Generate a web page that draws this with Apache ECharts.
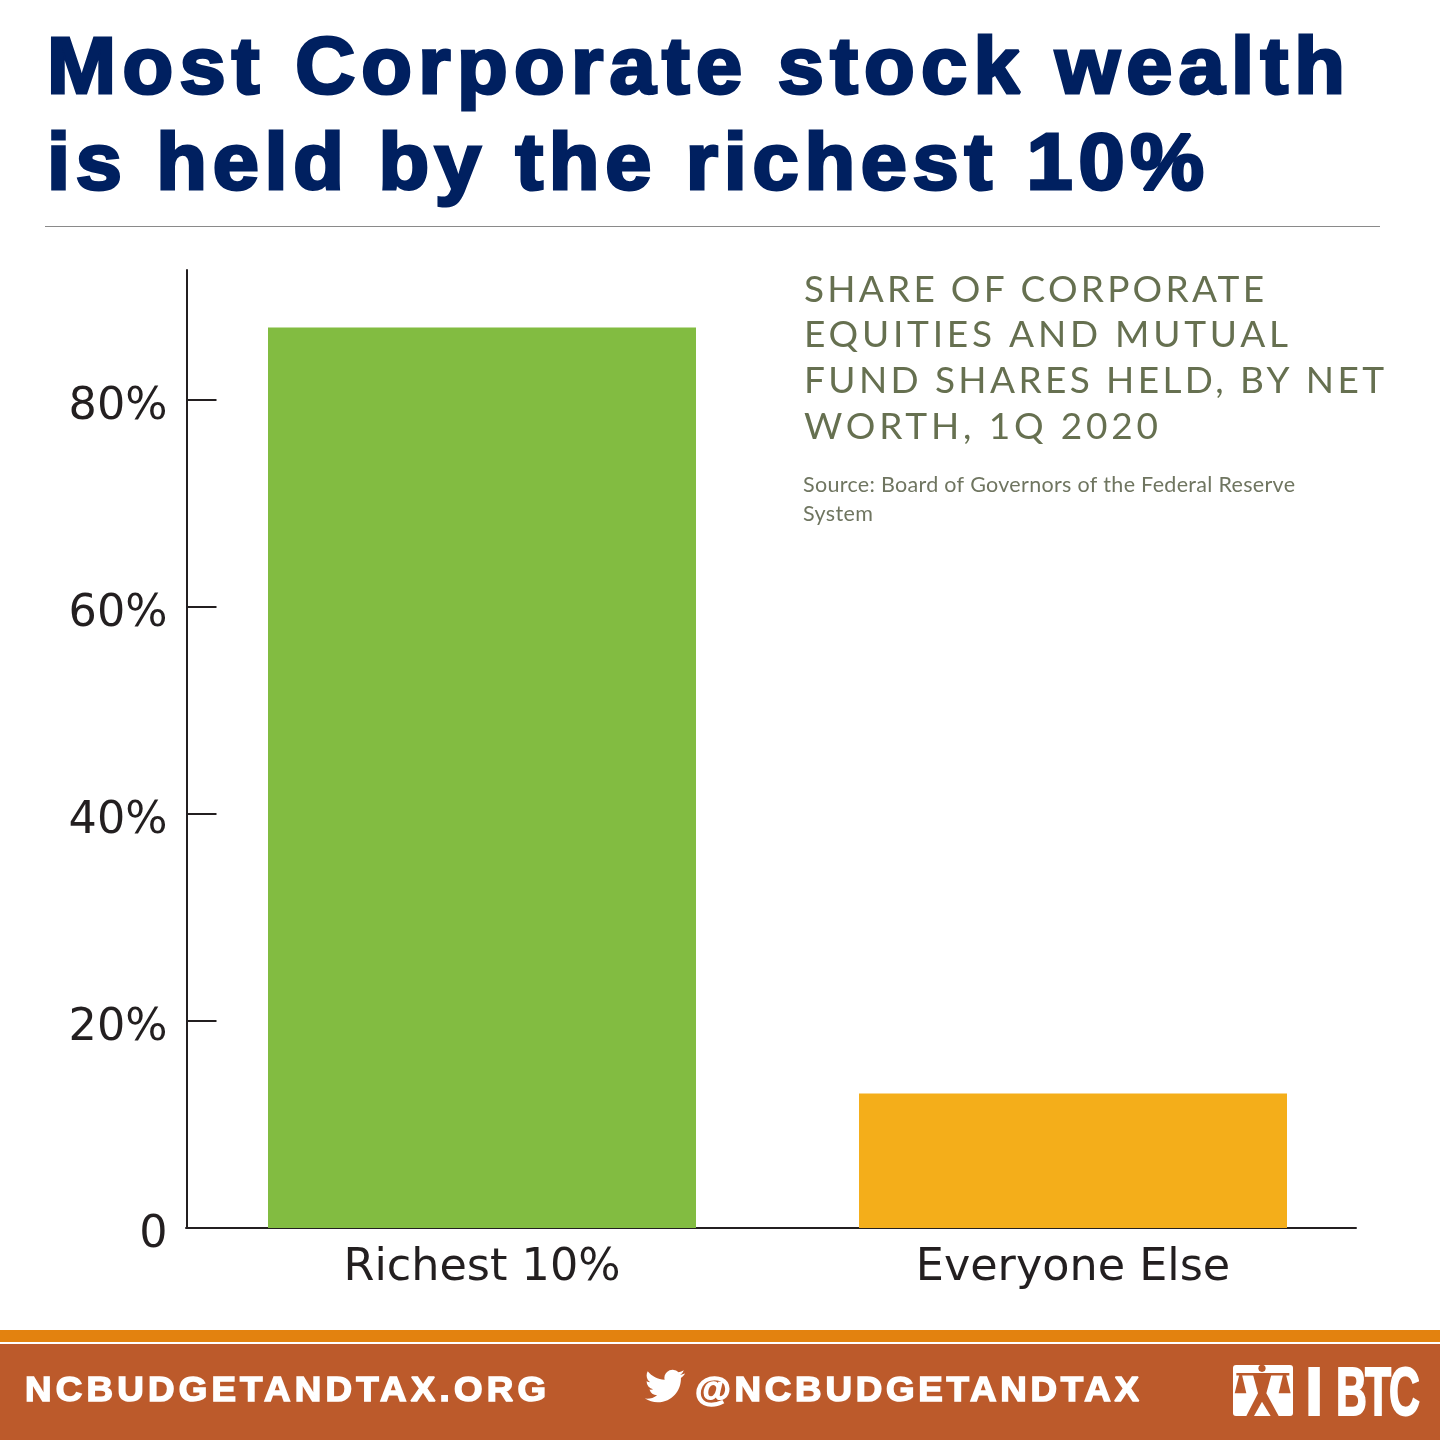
<!DOCTYPE html>
<html><head><meta charset="utf-8">
<style>html,body{margin:0;padding:0;background:#fff}#chart{width:1440px;height:1440px}</style>
<script src="https://cdn.jsdelivr.net/npm/echarts@6/dist/echarts.min.js"></script>
</head><body><div id="chart"></div>
<script>
const categories = ['Richest 10%', 'Everyone Else'];
const shares = [87, 13];
const barColors = ['#82bc41', '#f4ae1a'];
const yTickValues = [0, 20, 40, 60, 80];
const titleLines = ['Most Corporate stock wealth', 'is held by the richest 10%'];
const subtitleLines = ['SHARE OF CORPORATE', 'EQUITIES AND MUTUAL', 'FUND SHARES HELD, BY NET', 'WORTH, 1Q 2020'];
const sourceLines = ['Source: Board of Governors of the Federal Reserve', 'System'];
const footerSite = 'NCBUDGETANDTAX.ORG';
const footerHandle = '@NCBUDGETANDTAX';
const twitterPath = 'M23.953 4.57a10 10 0 0 1-2.825.775 4.958 4.958 0 0 0 2.163-2.723c-.951.555-2.005.959-3.127 1.184a4.92 4.92 0 0 0-8.384 4.482C7.69 8.095 4.067 6.13 1.64 3.162a4.822 4.822 0 0 0-.666 2.475c0 1.71.87 3.213 2.188 4.096a4.904 4.904 0 0 1-2.228-.616v.06a4.923 4.923 0 0 0 3.946 4.827 4.996 4.996 0 0 1-2.212.085 4.936 4.936 0 0 0 4.604 3.417 9.867 9.867 0 0 1-6.102 2.105c-.39 0-.779-.023-1.17-.067a13.995 13.995 0 0 0 7.557 2.209c9.053 0 13.998-7.496 13.998-13.985 0-.21 0-.42-.015-.63A9.935 9.935 0 0 0 24 4.59z';

echarts.graphic.registerShape('twitterBird', echarts.graphic.extendPath(twitterPath, {}));

// Letter spacing for the few tracked text runs (canvas supports it natively).
const tracking = new Map();
const proto = CanvasRenderingContext2D.prototype;
['fillText', 'strokeText'].forEach(fn => {
  const orig = proto[fn];
  proto[fn] = function (t, x, y, m) {
    this.letterSpacing = tracking.has(t) ? tracking.get(t) : '0px';
    return m === undefined ? orig.call(this, t, x, y) : orig.call(this, t, x, y, m);
  };
});
const mctx = document.createElement('canvas').getContext('2d');
function tracked(text, font, x, baseline, width, fill, extra, sx) {
  sx = sx || 1;
  mctx.font = font; mctx.letterSpacing = '0px'; mctx.textBaseline = 'middle';
  const m = mctx.measureText(text);
  const below = mctx.measureText('H').actualBoundingBoxDescent;
  if (width) tracking.set(text, ((width / sx - m.width) / Math.max(1, text.length - 1)).toFixed(3) + 'px');
  return { type: 'text', x: x, y: baseline - below, scaleX: sx, silent: true,
    style: Object.assign({ text: text, font: font, fill: fill, align: 'left', verticalAlign: 'middle' }, extra || {}) };
}
const pt = (px, py) => [1228 + px / 3, 1360 + py / 3];
const RUST = '#bc5a2b', NAVY = '#002060', OLIVE = '#667050', SRC = '#6f7560', INK = '#231f20';
const titleFont = 'bold 79px "Liberation Sans"';
const subFont = '400 37px Lato';
const srcFont = '21.5px Lato';
const footFont = 'bold 35px "Liberation Sans"';
const btcFont = 'bold 69px "Liberation Sans"';

const graphics = [
  { type: 'rect', shape: { x: 45, y: 226, width: 1335, height: 1 }, style: { fill: '#8a8a8a' }, silent: true },
  { type: 'rect', shape: { x: 0, y: 1330, width: 1440, height: 12 }, style: { fill: '#e3820f' }, silent: true },
  { type: 'rect', shape: { x: 0, y: 1344, width: 1440, height: 96 }, style: { fill: RUST }, silent: true },
  tracked(titleLines[0], titleFont, 47, 93, 1298, NAVY, { stroke: NAVY, lineWidth: 3 }, 1.05),
  tracked(titleLines[1], titleFont, 47, 189, 1157, NAVY, { stroke: NAVY, lineWidth: 3 }, 1.05),
  tracked(subtitleLines[0], subFont, 804, 302, 460, OLIVE),
  tracked(subtitleLines[1], subFont, 804, 347, 484, OLIVE),
  tracked(subtitleLines[2], subFont, 804, 393, 580, OLIVE),
  tracked(subtitleLines[3], subFont, 804, 439, 354, OLIVE),
  tracked(sourceLines[0], srcFont, 803, 492, 492, SRC),
  tracked(sourceLines[1], srcFont, 803, 521, 70, SRC),
  tracked(footerSite, footFont, 25, 1401, 521, '#fff', { stroke: '#fff', lineWidth: 1.5 }, 1.05),
  tracked(footerHandle, footFont, 695, 1401, 444, '#fff', { stroke: '#fff', lineWidth: 1.5 }, 1.05),
  { type: 'twitterBird', x: 645, y: 1366, scaleX: 40 / 24, scaleY: 40 / 24, silent: true, shape: {}, style: { fill: '#fff' } },
  { type: 'rect', shape: { x: 1233, y: 1365, width: 60, height: 51, r: 3 }, style: { fill: '#fff' }, silent: true },
  { type: 'circle', shape: { cx: pt(102, 0)[0], cy: pt(0, 25)[1], r: 3.6 }, style: { fill: RUST }, silent: true },
  { type: 'rect', shape: { x: pt(25, 0)[0], y: pt(0, 39)[1], width: 53, height: 2.4 }, style: { fill: RUST }, silent: true },
  { type: 'polygon', silent: true, style: { fill: RUST },
    shape: { points: [pt(75, 44), pt(130, 44), pt(115, 100), pt(152, 168), pt(128, 168), pt(102, 125), pt(78, 168), pt(55, 168), pt(90, 100)] } },
  { type: 'polygon', silent: true, style: { fill: RUST }, shape: { points: [pt(34, 44), pt(20, 100), pt(55, 100), pt(42, 44)] } },
  { type: 'polygon', silent: true, style: { fill: RUST }, shape: { points: [pt(165, 44), pt(152, 100), pt(188, 100), pt(174, 44)] } },
  tracked('I', btcFont, 1305, 1415, 0, '#fff', { stroke: '#fff', lineWidth: 2 }, 0.95),
  tracked('BTC', btcFont, 1336, 1415, 84, '#fff', { stroke: '#fff', lineWidth: 2 }, 0.62)
];

const chart = echarts.init(document.getElementById('chart'), null, { renderer: 'canvas' });
chart.setOption({
  animation: false,
  backgroundColor: '#fff',
  graphic: { elements: graphics },
  grid: [
    { left: 186.5, top: 270, width: 1182, height: 958, containLabel: false },
    { left: 186, top: 270, width: 1170, height: 958, containLabel: false }
  ],
  xAxis: [
    { type: 'category', gridIndex: 0, data: categories,
      axisLine: { show: false }, axisTick: { show: false },
      axisLabel: { color: INK, fontFamily: 'DejaVu Sans', fontSize: 44.5, margin: 18 } },
    { type: 'value', gridIndex: 1, min: 0, max: 1, show: true, splitLine: { show: false },
      axisTick: { show: false }, axisLabel: { show: false },
      axisLine: { onZero: false, lineStyle: { color: INK, width: 2 } } }
  ],
  yAxis: [
    { type: 'value', gridIndex: 0, min: 0, max: 92.56, splitLine: { show: false },
      axisLine: { show: true, onZero: false, lineStyle: { color: INK, width: 2 } },
      axisTick: { show: true, inside: true, length: 30, customValues: yTickValues, lineStyle: { color: INK, width: 2 } },
      axisLabel: { customValues: yTickValues, color: INK, fontFamily: 'DejaVu Sans', fontSize: 44.5, margin: 19,
        verticalAlign: 'top', lineHeight: 14,
        formatter: v => v === 0 ? '0' : v + '%' } },
    { type: 'value', gridIndex: 1, min: 0, max: 1, show: false }
  ],
  series: [{
    type: 'bar', xAxisIndex: 0, yAxisIndex: 0, barWidth: 428,
    data: shares.map((v, i) => ({ value: v, itemStyle: { color: barColors[i] } }))
  }]
});
</script></body></html>
